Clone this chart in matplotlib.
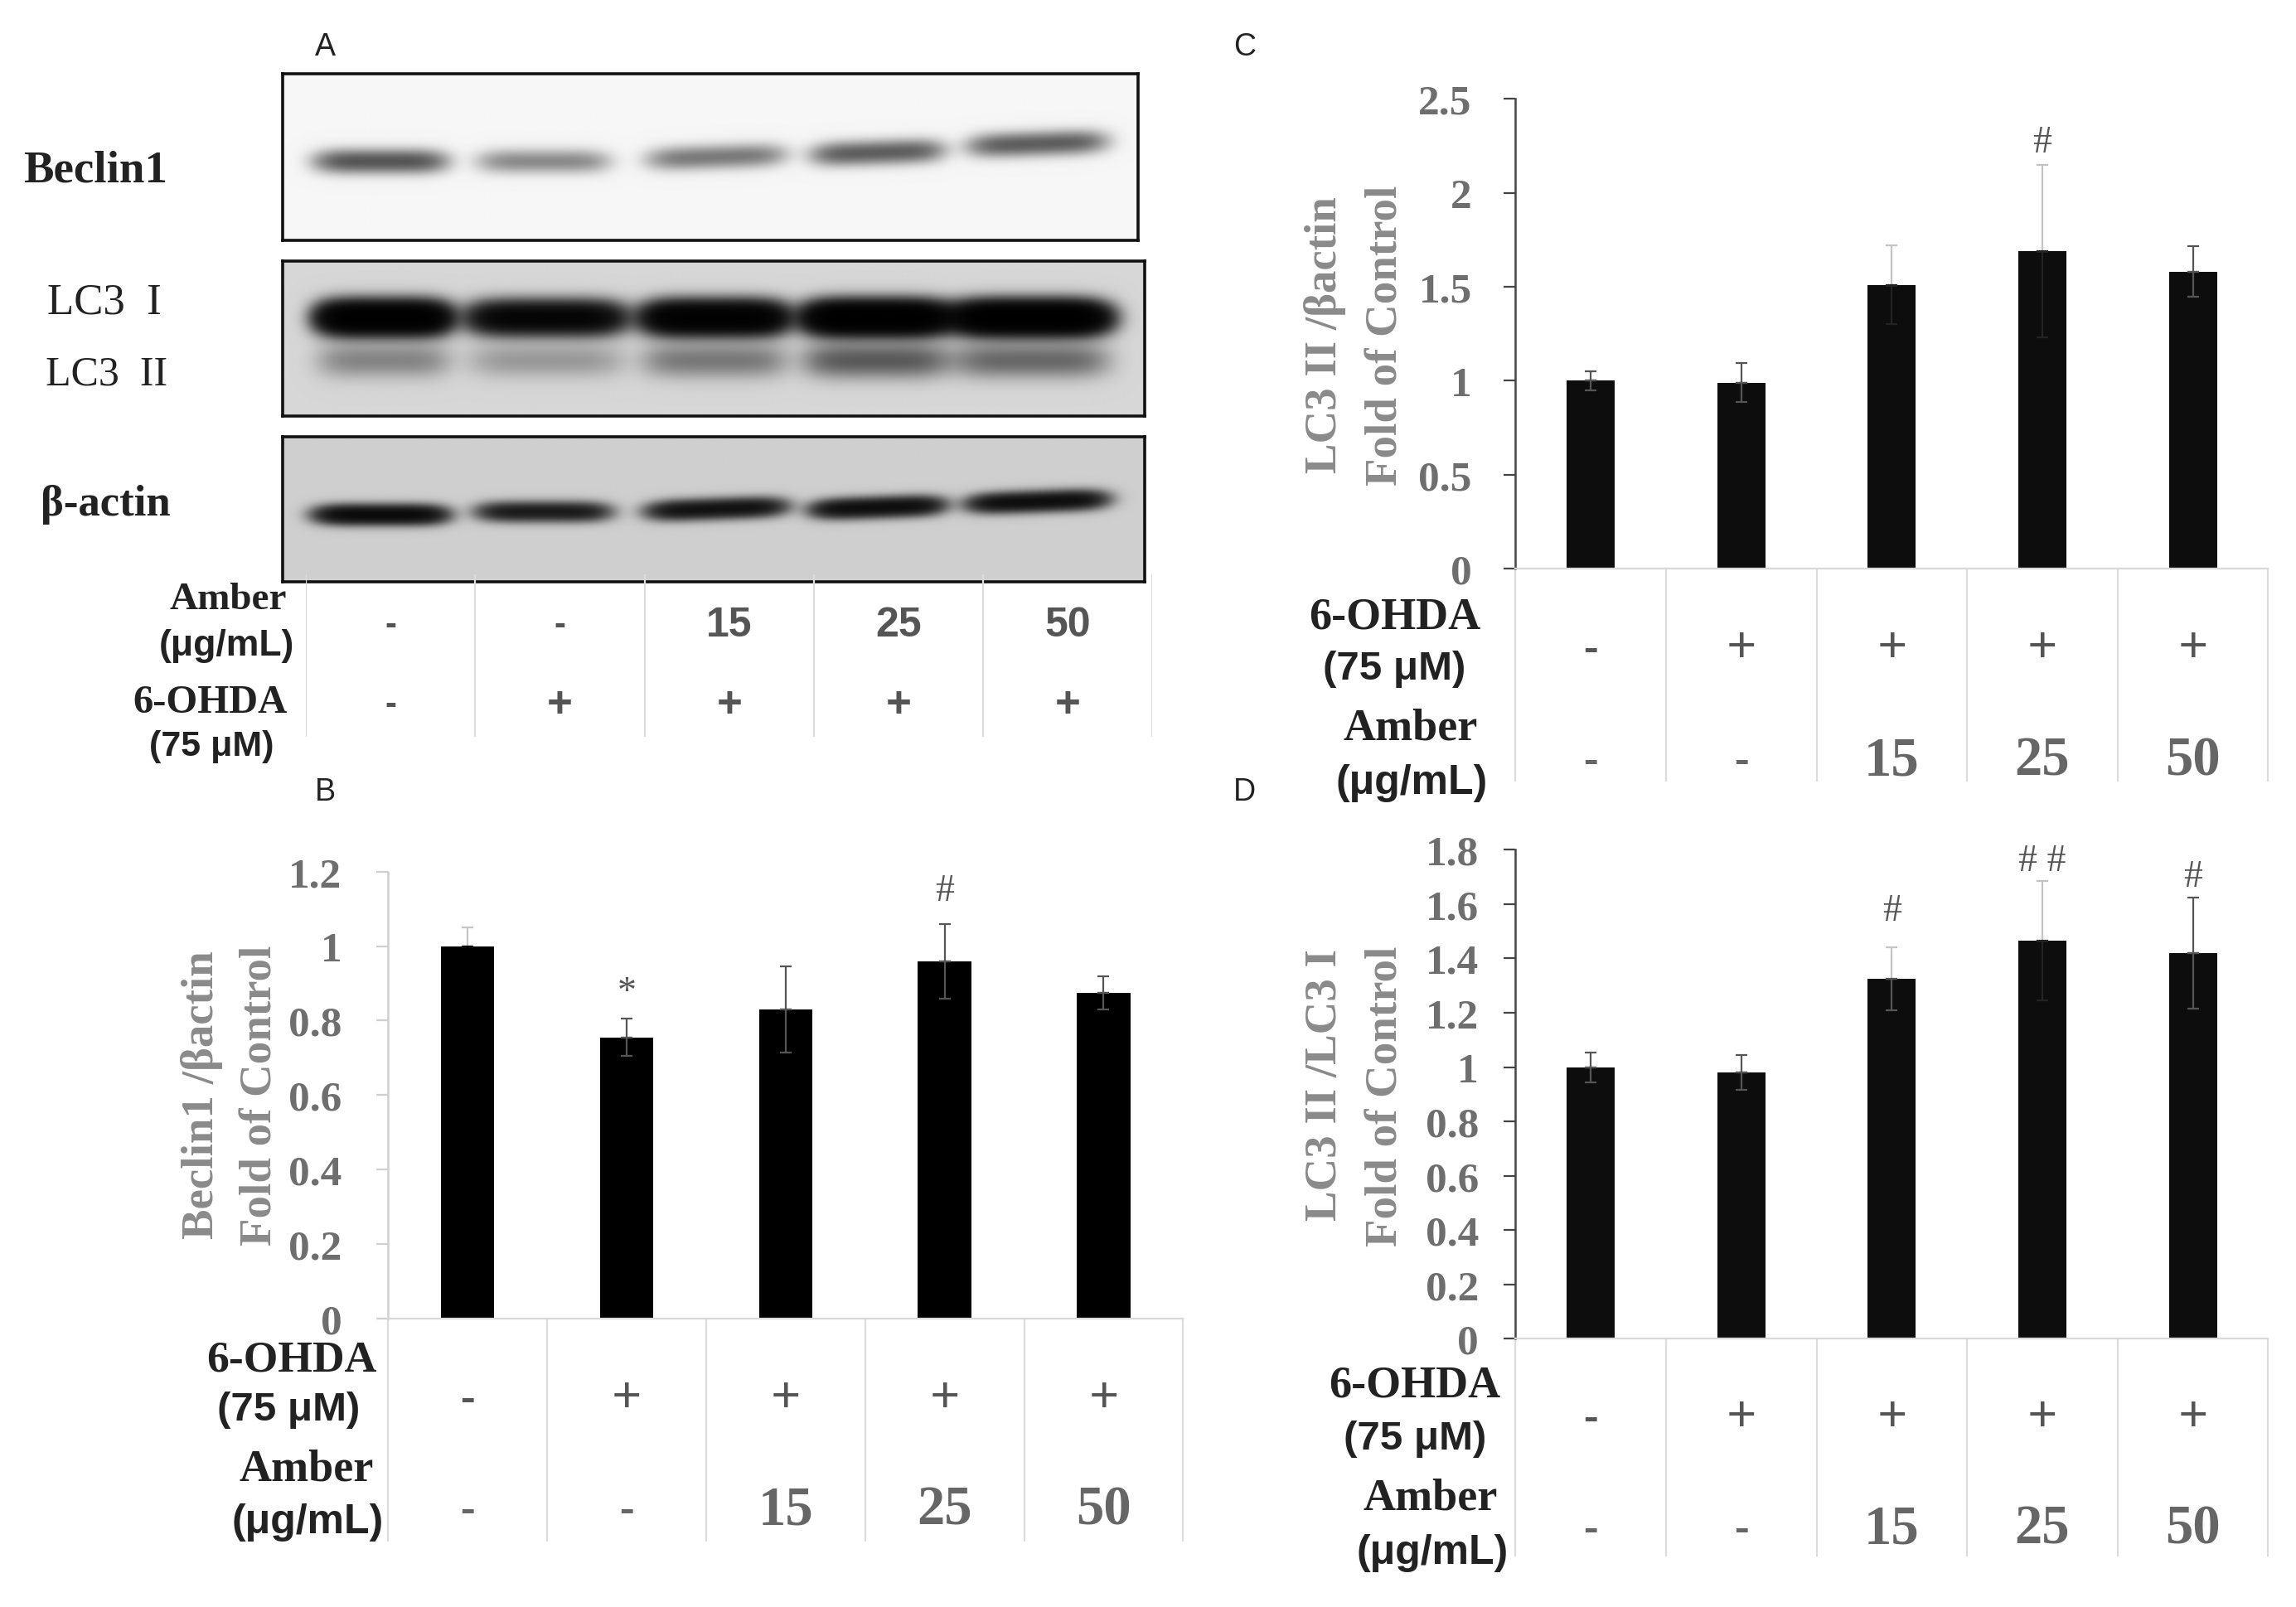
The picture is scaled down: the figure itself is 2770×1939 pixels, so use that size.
import numpy as np
import matplotlib
matplotlib.use("Agg")
import matplotlib.pyplot as plt
from matplotlib.transforms import blended_transform_factory as btf

# ---- data ----
beclin_vals = [1.0, 0.755, 0.83, 0.96, 0.875]
beclin_err = [0.05, 0.05, 0.115, 0.10, 0.045]
lc3_actin_vals = [1.0, 0.99, 1.51, 1.69, 1.58]
lc3_actin_err = [0.05, 0.105, 0.21, 0.46, 0.135]
lc3_ratio_vals = [1.0, 0.98, 1.325, 1.465, 1.42]
lc3_ratio_err = [0.055, 0.065, 0.115, 0.22, 0.205]
ohda_row = ['-', '+', '+', '+', '+']
amber_row = ['-', '-', '15', '25', '50']
beclin_ticks = [0, 0.2, 0.4, 0.6, 0.8, 1, 1.2]
c_ticks = [0, 0.5, 1, 1.5, 2, 2.5]
d_ticks = [0, 0.2, 0.4, 0.6, 0.8, 1, 1.2, 1.4, 1.6, 1.8]
b_marks = [(1, 0.875, '*'), (3, 1.15, '#')]
c_marks = [(3, 2.27, '#')]
d_marks = [(2, 1.575, '#'), (3, 1.76, '# #'), (4, 1.70, '#')]

# blot lanes: densitometry-like band strengths
lane_x = [260, 371, 489, 599, 708]
lane_hw = [44, 44, 46, 44, 46]
beclin_y = [111, 111, 108, 105, 99]
beclin_amp = [0.44, 0.24, 0.29, 0.40, 0.40]
lc3i_x = [262, 373, 488, 598, 703]
lc3i_hw = [44, 52, 48, 48, 52]
lc3i_amp = [2.2, 1.5, 2.0, 2.4, 2.4]
lc3ii_amp = [0.20, 0.14, 0.24, 0.36, 0.30]
actin_y = [352, 350, 348, 347, 343]
actin_amp = [1.2, 0.85, 1.0, 1.1, 1.1]

W, H = 1568, 1098.2
fig = plt.figure(figsize=(27.7, 19.4), dpi=100, facecolor='white')
SERIF = 'Liberation Serif'
SANS = 'Liberation Sans'
GRAY = '#6e6e6e'

def fx(x): return x / W
def fy(y): return 1 - y / H
def add_ax(x0, y0, x1, y1):
    return fig.add_axes([fx(x0), fy(y1), fx(x1) - fx(x0), fy(y0) - fy(y1)])
def ftext(x, y, s, **kw):
    kw.setdefault('va', 'center')
    kw.setdefault('ha', 'center')
    fig.text(fx(x), fy(y), s, **kw)

def blot(box, bands, bg):
    x0, y0, x1, y1 = box
    ax = add_ax(x0, y0, x1, y1)
    xs = np.arange(x0, x1, 0.5)
    ys = np.arange(y0, y1, 0.5)
    X, Y = np.meshgrid(xs, ys)
    D = np.zeros_like(X)
    for cx, cy, hw, hh, amp, tilt in bands:
        yy = Y - cy - tilt * (X - cx)
        D += amp * np.exp(-np.abs((X - cx) / hw) ** 5) * np.exp(-(yy / hh) ** 2)
    img = np.clip(bg * np.exp(-2.4 * D), 0, 1)
    ax.imshow(img, cmap='gray', vmin=0, vmax=1, aspect='auto',
              extent=[x0, x1, y1, y0], interpolation='bilinear')
    ax.set_xticks([]); ax.set_yticks([])
    for s in ax.spines.values():
        s.set_linewidth(2.6); s.set_color('#111111')

blot((193, 51, 777, 165),
     [(x, y, hw, 7.5, a, -0.035 if i > 1 else 0) for i, (x, hw, y, a) in enumerate(zip(lane_x, lane_hw, beclin_y, beclin_amp))], 0.965)
blot((193, 179, 782, 285),
     [(x, 218, hw, 10, a, 0) for x, hw, a in zip(lc3i_x, lc3i_hw, lc3i_amp)] +
     [(x, 247, hw, 11, a, 0) for x, hw, a in zip(lc3i_x, lc3i_hw, lc3ii_amp)], 0.84)
blot((193, 299, 782, 398),
     [(x, y, hw, 6, a, -0.035 if i > 1 else 0) for i, (x, hw, y, a) in enumerate(zip(lane_x, lane_hw, actin_y, actin_amp))], 0.81)

# Panel A table
axa = add_ax(209, 393, 787, 504)
axa.set_xlim(0, 5); axa.set_ylim(1, 0); axa.axis('off')
axa.vlines(range(6), 0, 1, color='#dddddd', lw=1.6)
for i, (o, a) in enumerate(zip(ohda_row, amber_row)):
    axa.text(i + .5, 0.31, a, ha='center', va='center', family=SANS, weight='bold', size=36 if a != '-' else 30, color='#555555')
    axa.text(i + .5, 0.80, o, ha='center', va='center', family=SANS, weight='bold', size=38 if o == '+' else 30, color='#555555')

def bars(box, vals, errs, ymax, ticks, marks, barcolor, axcolor, rows_y, grid_bottom, ylabels, width, pad, up_col, low_col):
    x0, y0, x1, y1 = box
    ax = add_ax(x0, y0, x1, y1)
    pos = np.arange(len(vals)) + 0.5
    ax.bar(pos, vals, width, color=barcolor)
    for p, v, e, uc, lc in zip(pos, vals, errs, up_col, low_col):
        ax.errorbar(p, v, yerr=[[0], [e]], fmt='none', ecolor=uc, elinewidth=1.6, capsize=5, capthick=1.6)
        ax.errorbar(p, v, yerr=[[e], [0]], fmt='none', ecolor=lc, elinewidth=1.6, capsize=5, capthick=1.6)
    ax.set_xlim(0, 5); ax.set_ylim(0, ymax)
    ax.set_xticks([])
    ax.set_yticks(ticks); ax.set_yticklabels([f'{t:g}' for t in ticks])
    ax.tick_params(axis='y', length=10, width=1.6, color=axcolor, pad=pad)
    for l in ax.get_yticklabels():
        l.set_family(SERIF); l.set_weight('bold'); l.set_size(37); l.set_color(GRAY)
    for s in ('top', 'right'):
        ax.spines[s].set_visible(False)
    ax.spines['left'].set_color(axcolor); ax.spines['left'].set_linewidth(1.8)
    ax.spines['bottom'].set_color('#d9d9d9'); ax.spines['bottom'].set_linewidth(1.6)
    for i, y, s in marks:
        ax.text(i + .5, y, s, ha='center', va='center', family=SERIF, size=33, color='#555555')
    tr = btf(ax.transData, fig.transFigure)
    for i in range(6):
        ax.plot([i, i], [fy(y1), fy(grid_bottom)], transform=tr, color='#dddddd', lw=1.6, clip_on=False)
    for i, (o, a) in enumerate(zip(ohda_row, amber_row)):
        ax.text(i + .5, fy(rows_y[0]), o, transform=tr, ha='center', va='center', family=SERIF, weight='bold', size=46 if o == '+' else 38, color='#555555')
        ax.text(i + .5, fy(rows_y[1]), a, transform=tr, ha='center', va='center', family=SERIF, weight='bold', size=48 if a != '-' else 38, color='#666666')
    for (lx, ly, s) in ylabels:
        ftext(lx, ly, s, rotation=90, family=SERIF, weight='bold', size=39.5, color='#8a8a8a')
    return ax

DK, PL = '#555555', '#c4c4c4'
bars((265, 596, 808, 901), beclin_vals, beclin_err, 1.2, beclin_ticks, b_marks, '#000000', '#d0d0d0',
     (956, 1032), 1053, [(138, 748, 'Beclin1 /βactin'), (178, 748, 'Fold of Control')], 0.335, 30,
     [PL, DK, DK, DK, DK], ['#000000', DK, DK, DK, DK])
bars((1035, 68, 1549, 389), lc3_actin_vals, lc3_actin_err, 2.5, c_ticks, c_marks, '#0d0d0d', '#444444',
     (444, 520), 534, [(905, 229, 'LC3 II /βactin'), (947, 229, 'Fold of Control')], 0.32, 28,
     [DK, DK, PL, PL, DK], [DK, DK, '#222222', '#222222', DK])
bars((1035, 581, 1549, 915), lc3_ratio_vals, lc3_ratio_err, 1.8, d_ticks, d_marks, '#0d0d0d', '#444444',
     (969, 1045), 1063, [(905, 741, 'LC3 II /LC3 I'), (947, 749, 'Fold of Control')], 0.32, 22,
     [DK, DK, PL, PL, DK], [DK, DK, DK, '#222222', DK])

# Row titles
def row_title(x, y, s, fam, size):
    ftext(x, y, s, ha='right', family=fam, weight='bold', size=size, color='#222222')

for x, y, s, fam, size in [
    (196, 410, 'Amber', SERIF, 34), (201, 441, '(μg/mL)', SANS, 32),
    (196, 480, '6-OHDA', SERIF, 35), (187, 510, '(75 μM)', SANS, 31),
    (257, 929, '6-OHDA', SERIF, 38.5), (246, 963, '(75 μM)', SANS, 35.5),
    (255, 1004, 'Amber', SERIF, 39), (262, 1040, '(μg/mL)', SANS, 36),
    (1011, 422, '6-OHDA', SERIF, 39), (1001, 457, '(75 μM)', SANS, 35.5),
    (1009, 498, 'Amber', SERIF, 39), (1016, 535, '(μg/mL)', SANS, 36),
    (1025, 947, '6-OHDA', SERIF, 39), (1015, 983, '(75 μM)', SANS, 35.5),
    (1023, 1024, 'Amber', SERIF, 39), (1030, 1061, '(μg/mL)', SANS, 36)]:
    row_title(x, y, s, fam, size)

# blot labels
for x, y, s, size in [(65, 117, 'Beclin1', 39.5), (71, 207, 'LC3  I', 38), (73, 256, 'LC3  II', 36), (72, 345, 'β-actin', 38)]:
    ftext(x, y, s, family=SERIF, weight='bold' if s[0] in 'Bβ' else 'normal', size=size, color='#222222')

# panel letters
for x, y, s in [(222, 32, 'A'), (222, 541, 'B'), (850, 32, 'C'), (850, 541, 'D')]:
    ftext(x, y, s, family=SANS, size=27, color='#222222')

fig.savefig('out.png', dpi=100, facecolor='white')
